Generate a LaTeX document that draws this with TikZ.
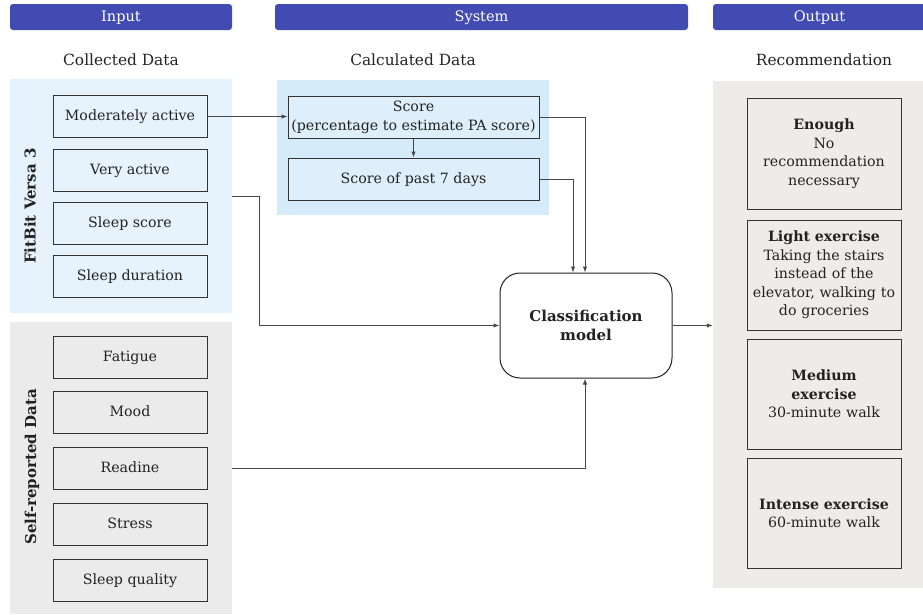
\documentclass[tikz,border=0pt]{standalone}
\usepackage{fontspec}
\setmainfont{DejaVu Serif}
\usetikzlibrary{arrows.meta}
\definecolor{barblue}{HTML}{414BB2}
\definecolor{fitblue}{HTML}{E6F3FD}
\definecolor{calcblue}{HTML}{D6EBFA}
\definecolor{selfgray}{HTML}{EBEBEB}
\definecolor{outpink}{HTML}{F0EBEB}
\definecolor{ink}{HTML}{222222}
\definecolor{edge}{HTML}{333333}
\begin{document}
\begin{tikzpicture}[x=1pt,y=-1pt,
  font=\fontsize{14.2}{18.5}\selectfont, text=ink,
  bar/.style={fill=barblue, rounded corners=3pt, text=white, minimum height=26pt, inner sep=0pt,
    text height=10.5pt, text depth=2pt, font=\fontsize{14.5}{16}\selectfont},
  panel/.style={fill=#1, inner sep=0pt},
  databox/.style={draw=edge, line width=1pt, fill=#1, minimum width=154pt, minimum height=42pt, inner sep=0pt,
    text height=10.5pt, text depth=2pt},
  recbox/.style={draw=edge, line width=1pt, fill=outpink, minimum width=154pt, minimum height=110pt, inner sep=2pt, align=center, text width=150pt},
  conn/.style={draw=edge!90, line width=1pt, -{Latex[length=6pt,width=4.5pt]}},
  heading/.style={font=\fontsize{15.4}{18}\selectfont},
  sidelbl/.style={rotate=90, font=\fontsize{15}{17}\selectfont\bfseries}]
\useasboundingbox (0,0) rectangle (923,614);

% header bars
\node[bar, minimum width=222pt] (inbar) at (121,17) {Input};
\node[bar, minimum width=413pt] (sysbar) at (481.5,17) {System};
\node[bar, minimum width=213pt] (outbar) at (819.5,17) {Output};

\node[heading] (colh) at (121,60) {Collected Data};
\node[heading] (calch) at (413,60) {Calculated Data};
\node[heading] (rech) at (824,60) {Recommendation};

% panels
\node[panel=fitblue, minimum width=222pt, minimum height=234pt] (fitbit) at (121,196) {};
\node[panel=selfgray, minimum width=222pt, minimum height=292pt] (self) at (121,468) {};
\node[panel=calcblue, minimum width=272pt, minimum height=135pt] (calc) at (413,147.5) {};
\node[panel=outpink, minimum width=210pt, minimum height=507pt] (output) at (818,334.5) {};

\node[sidelbl] (fitlbl) at (30,206) {FitBit Versa 3};
\node[sidelbl] (selflbl) at (32,467) {Self-reported Data};

% collected data
\node[databox=fitblue] (modact) at (130,116.5) {Moderately active};
\node[databox=fitblue] (veryact) at (130,170) {Very active};
\node[databox=fitblue] (slscore) at (130,223) {Sleep score};
\node[databox=fitblue] (sldur) at (130,276) {Sleep duration};

\node[databox=selfgray] (fatigue) at (130,357) {Fatigue};
\node[databox=selfgray] (mood) at (130,412) {Mood};
\node[databox=selfgray] (readine) at (130,468) {Readine};
\node[databox=selfgray] (stress) at (130,524) {Stress};
\node[databox=selfgray] (slqual) at (130,580) {Sleep quality};

% calculated data
\node[databox=calcblue!80!white, minimum width=251pt, align=center, text height=, text depth=,
  font=\fontsize{14.2}{18.5}\selectfont] (score) at (413.5,117.5)
  {Score\\(percentage to estimate PA score)};
\node[databox=calcblue!80!white, minimum width=251pt] (past) at (413.5,179) {Score of past 7 days};

% model
\node[draw=ink, line width=1pt, fill=white, rounded corners=20pt, minimum width=172pt,
  minimum height=105pt, align=center, font=\fontsize{15}{18.5}\selectfont\bfseries] (model) at (586,325.5)
  {Classification\\model};

% recommendations
\node[recbox, minimum height=111pt] (enough) at (824,153.5)
  {\textbf{Enough}\\No\\recommendation\\necessary};
\node[recbox] (light) at (824,275)
  {\textbf{Light exercise}\\Taking the stairs\\instead of the\\elevator, walking to\\do groceries};
\node[recbox] (medium) at (824,394)
  {\textbf{Medium}\\\textbf{exercise}\\30-minute walk};
\node[recbox] (intense) at (824,513)
  {\textbf{Intense exercise}\\60-minute walk};

% connectors
\draw[conn] (modact.east) -- (modact.east -| score.west);
\draw[conn] (score.south) -- (past.north);
\draw[conn] (score.east) -| ([xshift=-1pt]model.north);
\draw[conn] (past.east) -| ([xshift=-13pt]model.north);
\draw[conn] (fitbit.east) -- ++(27,0) |- (model.west);
\draw[conn] (self.east) -| ([xshift=-1pt]model.south);
\draw[conn] (model.east) -- (model.east -| output.west);
\end{tikzpicture}
\end{document}
